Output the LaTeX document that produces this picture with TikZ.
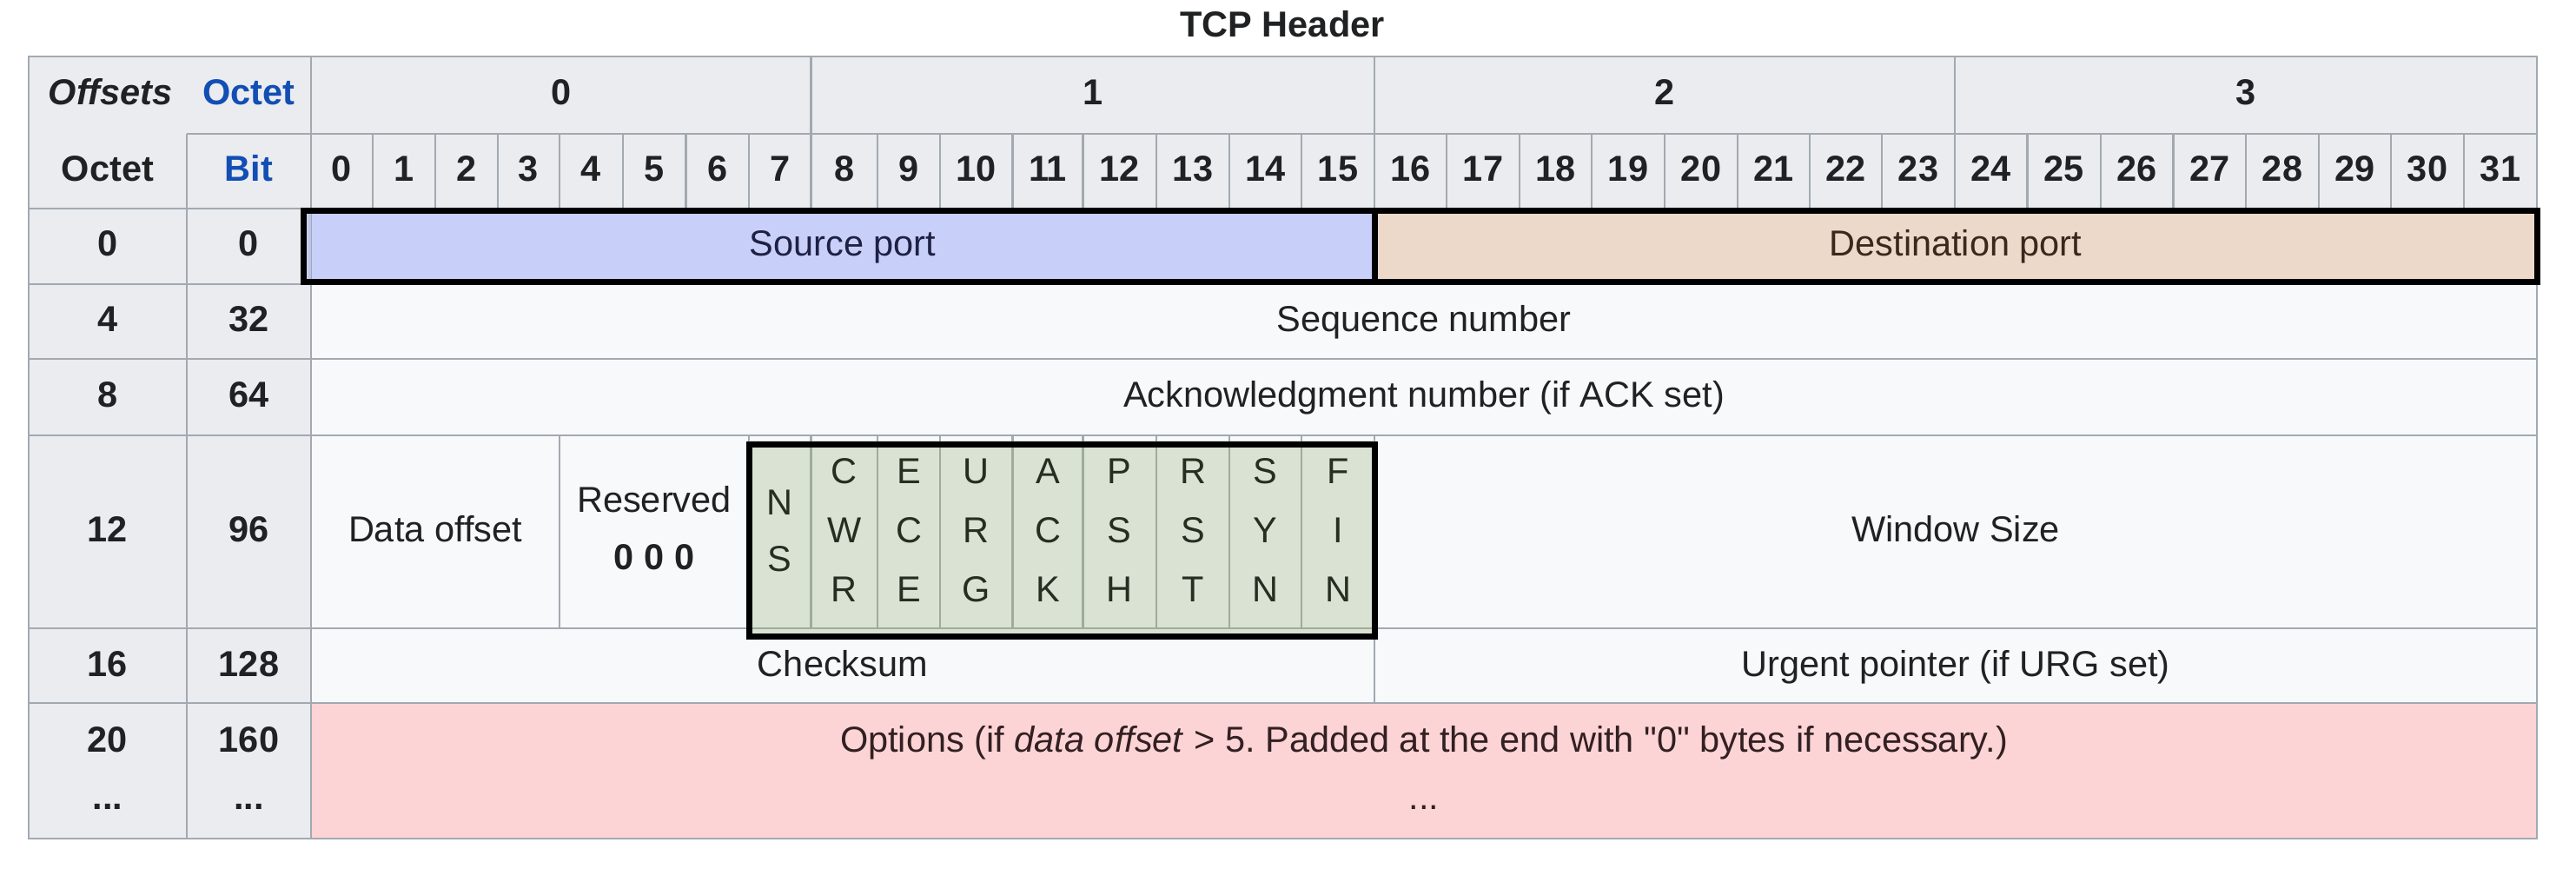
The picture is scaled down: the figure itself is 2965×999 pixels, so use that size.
\documentclass[tikz,border=0pt]{standalone}
\usepackage{fontspec}
\setmainfont{Liberation Sans}[Ligatures=TeXOff]
\frenchspacing
\definecolor{hdrbg}{HTML}{EAECF0}
\definecolor{bodybg}{HTML}{F8F9FA}
\definecolor{gridc}{HTML}{A2A9B1}
\definecolor{txt}{HTML}{202122}
\definecolor{linkc}{RGB}{18,78,180}
\definecolor{srcbg}{HTML}{C8D0FA}
\definecolor{srctxt}{RGB}{30,32,68}
\definecolor{dstbg}{HTML}{EDD9C9}
\definecolor{dsttxt}{RGB}{58,40,30}
\definecolor{flagbg}{HTML}{D9E2D3}
\definecolor{flagtxt}{RGB}{38,46,34}
\definecolor{flagline}{RGB}{160,172,154}
\definecolor{optbg}{HTML}{FDD4D6}
\definecolor{opttxt}{RGB}{50,32,34}
\begin{document}
\begin{tikzpicture}[x=1pt,y=-1pt,
  every node/.style={inner sep=0pt,outer sep=0pt,text=txt,font=\fontsize{41.5}{66}\selectfont},
  lbl/.style={anchor=base},
  hdr/.style={anchor=base,font=\fontsize{41.5}{66}\selectfont\bfseries},
  gridline/.style={draw=gridc,line width=2.4pt},
  flagsep/.style={draw=flagline,line width=2.4pt},
  thickbox/.style={draw=black,line width=7pt}]
\useasboundingbox (0,0) rectangle (2965,999);
\fill[white] (0,0) rectangle (2965,999);
% backgrounds
\fill[hdrbg] (33,65) rectangle (2920,240);
\fill[hdrbg] (33,240) rectangle (358,965);
\fill[bodybg] (358,240) rectangle (2920,965);
\fill[srcbg] (349,240) rectangle (1582,327);
\fill[dstbg] (1582,240) rectangle (2920,327);
\fill[optbg] (358,809) rectangle (2920,965);
% grid
\draw[gridline] (33,65) rectangle (2920,965);
\draw[gridline] (215,154) -- (2920,154);
\foreach \yy in {240,327,413,501,723,809} {\draw[gridline] (33,\yy) -- (2920,\yy);}
\draw[gridline] (215,154) -- (215,965);
\draw[gridline] (358,65) -- (358,965);
\foreach \xx in {933.5,1582,2250} {\draw[gridline] (\xx,65) -- (\xx,154);}
\foreach \xx in {429,501,573,644,717,789.5,862,933.5,1010,1082,1165.5,1246.5,1331,1415,1498,1582,1665,1749,1832,1916,2000,2083,2166,2250,2333.5,2418,2501.5,2585,2669,2752,2836}
  {\draw[gridline] (\xx,154) -- (\xx,240);}
\draw[gridline] (644,501) -- (644,723);
\draw[gridline] (862,501) -- (862,723);
\foreach \xx in {933.5,1010,1082,1165.5,1246.5,1331,1415,1498} {\draw[gridline] (\xx,501) -- (\xx,723);}
\draw[gridline] (1582,501) -- (1582,809);
\draw[draw=srcbg!70!gridc,line width=2.4pt] (356.5,246) -- (356.5,321);
% flags area
\fill[flagbg] (862,507) rectangle (1582,733);
\foreach \xx in {933.5,1010,1082,1165.5,1246.5,1331,1415,1498} {\draw[flagsep] (\xx,507) -- (\xx,723);}
\draw[flagsep] (862,723) -- (1582,723);
% thick boxes
\draw[thickbox] (349,242.5) rectangle (2920.5,324.5);
\draw[thickbox] (1582,242.5) -- (1582,324.5);
\draw[thickbox] (862.5,511) rectangle (1582.5,732.5);
% title
\node[hdr] (title) at (1476,42) {TCP Header};
% header row 1
\node[hdr,font=\fontsize{41.5}{66}\selectfont\bfseries\itshape] (offsets) at (127,120.5) {Offsets};
\node[hdr,text=linkc] (octetlink) at (286.5,120.5) {Octet};
\node[hdr] (byte0) at (645.75,120.5) {0};
\node[hdr] (byte1) at (1257.75,120.5) {1};
\node[hdr] (byte2) at (1916,120.5) {2};
\node[hdr] (byte3) at (2585,120.5) {3};
% header row 2
\node[hdr] (octetlbl) at (124,208) {Octet};
\node[hdr,text=linkc] (bitlbl) at (286.5,208) {Bit};
\foreach \i/\l/\r in {0/358/429,1/429/501,2/501/573,3/573/644,4/644/717,5/717/789.5,6/789.5/862,7/862/933.5,8/933.5/1010,9/1010/1082,10/1082/1165.5,11/1165.5/1246.5,12/1246.5/1331,13/1331/1415,14/1415/1498,15/1498/1582,16/1582/1665,17/1665/1749,18/1749/1832,19/1832/1916,20/1916/2000,21/2000/2083,22/2083/2166,23/2166/2250,24/2250/2333.5,25/2333.5/2418,26/2418/2501.5,27/2501.5/2585,28/2585/2669,29/2669/2752,30/2752/2836,31/2836/2920}
  {\node[hdr] (bit\i) at ({(\l+\r)/2},208) {\i};}
% left labels
\foreach \nm/\o/\b/\yy in {r0/0/0/294.5,r4/4/32/381,r8/8/64/468,r12/12/96/623,r16/16/128/778,r20/20/160/865}
  {\node[hdr] (\nm o) at (124,\yy) {\o};
   \node[hdr] (\nm b) at (286.5,\yy) {\b};}
\node[hdr] (r20odots) at (124,931) {...};
\node[hdr] (r20bdots) at (286.5,931) {...};
% fields
\node[lbl,text=srctxt] (srcport) at (970,294.5) {Source port};
\node[lbl,text=dsttxt] (dstport) at (2251,294.5) {Destination port};
\node[lbl] (seqnum) at (1639,381) {Sequence number};
\node[lbl] (acknum) at (1639,468) {Acknowledgment number (if ACK set)};
\node[lbl] (dataoff) at (501,623) {Data offset};
\node[lbl] (reserved) at (753,589) {Reserved};
\node[hdr] (reszero) at (753,655) {0 0 0};
\node[lbl,text=flagtxt] (nsn) at (897.75,592) {N};
\node[lbl,text=flagtxt] (nss) at (897.75,657) {S};
\foreach \nm/\l/\r/\a/\b/\c in {cwr/933.5/1010/C/W/R,ece/1010/1082/E/C/E,urg/1082/1165.5/U/R/G,ack/1165.5/1246.5/A/C/K,psh/1246.5/1331/P/S/H,rst/1331/1415/R/S/T,syn/1415/1498/S/Y/N,fin/1498/1582/F/I/N}
  {\node[lbl,text=flagtxt] (\nm a) at ({(\l+\r)/2},556) {\a};
   \node[lbl,text=flagtxt] (\nm b) at ({(\l+\r)/2},624) {\b};
   \node[lbl,text=flagtxt] (\nm c) at ({(\l+\r)/2},692) {\c};}
\node[lbl] (winsize) at (2251,623) {Window Size};
\node[lbl] (checksum) at (970,778) {Checksum};
\node[lbl] (urgptr) at (2251,778) {Urgent pointer (if URG set)};
\node[lbl,text=opttxt] (options) at (1639,865) {Options (if \textit{data offset} > 5. Padded at the end with "0" bytes if necessary.)};
\node[lbl,text=opttxt] (optdots) at (1639,931) {...};
\end{tikzpicture}
\end{document}
